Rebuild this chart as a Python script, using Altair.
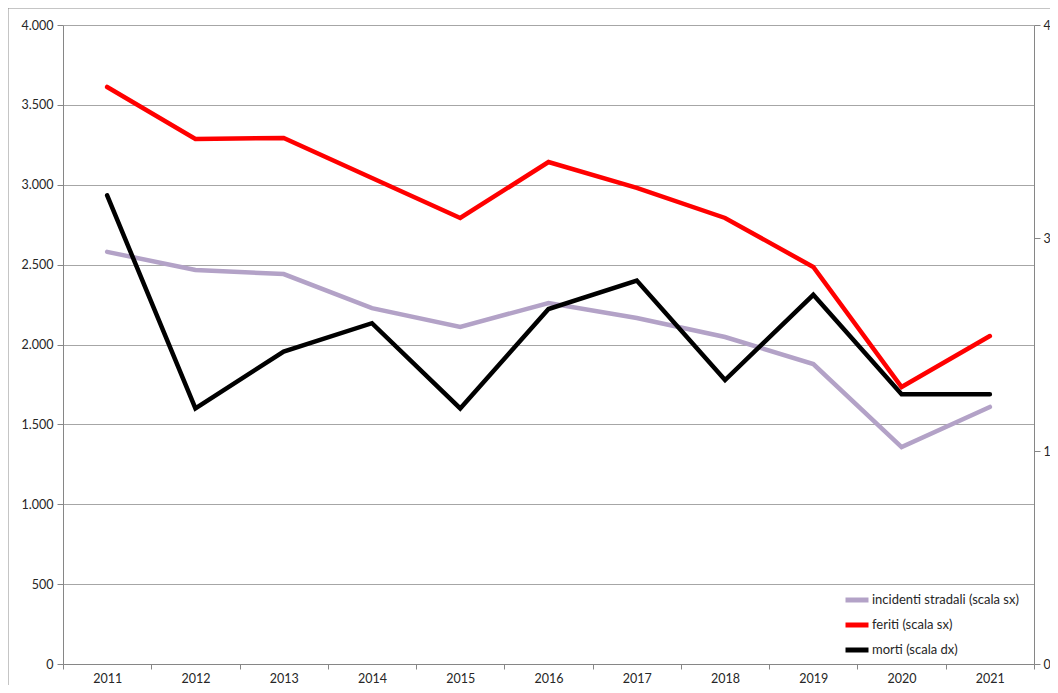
import altair as alt
import pandas as pd

anni = [str(y) for y in range(2011, 2022)]
incidenti = [2580, 2466, 2441, 2228, 2110, 2260, 2166, 2047, 1878, 1358, 1609]
feriti = [3612, 3286, 3293, 3042, 2792, 3142, 2980, 2792, 2485, 1734, 2053]
morti = [33, 18, 22, 24, 18, 25, 27, 20, 26, 19, 19]
serie = ["incidenti stradali (scala sx)", "feriti (scala sx)", "morti (scala dx)"]
colori = ["#b3a2c7", "#ff0000", "#000000"]

rows = []
for nome, vals in zip(serie, [incidenti, feriti, morti]):
    for a, v in zip(anni, vals):
        rows.append({"anno": a, "serie": nome, "valore": v})
df = pd.DataFrame(rows)

W, H = 971, 639
AX = "#868686"
GRID = "#a6a6a6"
LBL = "#262626"
FONT = "Lato"
FS = 12.5

x_enc = alt.X(
    "anno:O",
    sort=anni,
    bandPosition=0.5,
    scale=alt.Scale(type="band", paddingInner=0, paddingOuter=0),
    axis=alt.Axis(
        title=None, labelAngle=0, tickBand="extent", domainColor=AX,
        tickColor=AX, tickSize=5, labelPadding=3, labelColor=LBL,
        labelFontSize=FS, labelFont=FONT, grid=False,
    ),
)

color_enc = alt.Color(
    "serie:N",
    scale=alt.Scale(domain=serie, range=colori),
    legend=alt.Legend(
        title=None, orient="none", legendX=774, legendY=555,
        symbolType="stroke", symbolStrokeWidth=5, symbolSize=529,
        labelFontSize=13, labelFont=FONT, labelColor=LBL,
        rowPadding=1, labelOffset=1, padding=6,
    ),
)

left = alt.Chart(df).transform_filter(
    alt.datum.serie != serie[2]
).mark_line(strokeWidth=4.5, strokeCap="round", strokeJoin="miter").encode(
    x=x_enc,
    y=alt.Y(
        "valore:Q",
        scale=alt.Scale(domain=[0, 4000], nice=False),
        axis=alt.Axis(
            title=None, values=list(range(0, 4001, 500)), orient="left",
            labelExpr="replace(format(datum.value, ','), ',', '.')",
            grid=True, gridColor=GRID, domainColor=AX, tickColor=AX,
            tickSize=6, labelPadding=4, labelColor=LBL, labelFontSize=FS,
            labelFont=FONT,
        ),
    ),
    color=color_enc,
    detail="serie:N",
)

right = alt.Chart(df).transform_filter(
    alt.datum.serie == serie[2]
).mark_line(strokeWidth=4.5, strokeCap="round", strokeJoin="miter").encode(
    x=x_enc,
    y=alt.Y(
        "valore:Q",
        scale=alt.Scale(domain=[0, 45], nice=False),
        axis=alt.Axis(
            title=None, values=[0, 15, 30, 45], orient="right", grid=False,
            domainColor=AX, tickColor=AX, tickSize=6, labelPadding=3,
            labelColor=LBL, labelFontSize=FS, labelFont=FONT,
        ),
    ),
    color=color_enc,
)

border = alt.Chart(pd.DataFrame({"k": [0]})).mark_rect(
    fillOpacity=0, stroke="#8c8c8c", strokeWidth=1
).encode(
    x=alt.value(-55), x2=alt.value(1200), y=alt.value(-17), y2=alt.value(700)
)

chart = alt.layer(border, left, right).resolve_scale(
    y="independent"
).properties(
    width=W, height=H,
    autosize=alt.AutoSizeParams(type="none"),
    padding={"left": 55, "top": 17, "right": 16, "bottom": 21},
    background="white",
).configure_view(stroke=None)

chart.save("out.html", embed_options={"renderer": "svg", "actions": False})
